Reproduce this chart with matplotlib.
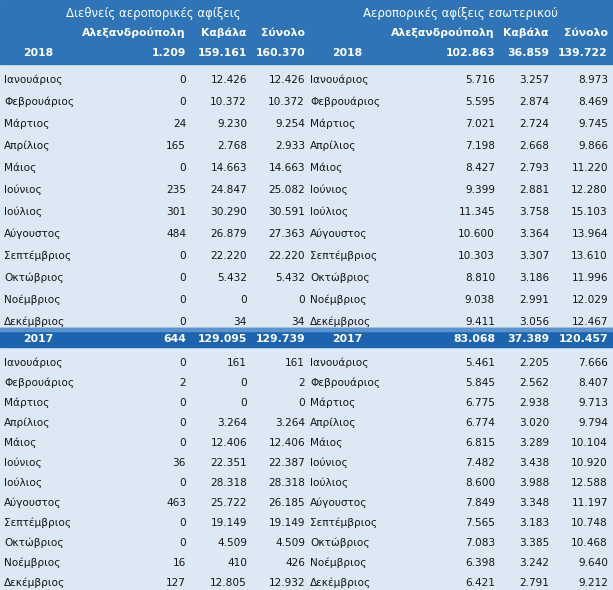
import matplotlib
matplotlib.use("Agg")
import matplotlib.pyplot as plt
from matplotlib.patches import Rectangle

months = ["Ιανουάριος", "Φεβρουάριος", "Μάρτιος", "Απρίλιος", "Μάιος", "Ιούνιος",
          "Ιούλιος", "Αύγουστος", "Σεπτέμβριος", "Οκτώβριος", "Νοέμβριος", "Δεκέμβριος"]
left_title = "Διεθνείς αεροπορικές αφίξεις"
right_title = "Αεροπορικές αφίξεις εσωτερικού"
col_labels = ["Αλεξανδρούπολη", "Καβάλα", "Σύνολο"]
years = ["2018", "2017"]

# International arrivals
intl_2018_alex = [0, 0, 24, 165, 0, 235, 301, 484, 0, 0, 0, 0]
intl_2018_kav = [12426, 10372, 9230, 2768, 14663, 24847, 30290, 26879, 22220, 5432, 0, 34]
intl_2018_tot = [12426, 10372, 9254, 2933, 14663, 25082, 30591, 27363, 22220, 5432, 0, 34]
intl_2018_sum = [1209, 159161, 160370]
intl_2017_alex = [0, 2, 0, 0, 0, 36, 0, 463, 0, 0, 16, 127]
intl_2017_kav = [161, 0, 0, 3264, 12406, 22351, 28318, 25722, 19149, 4509, 410, 12805]
intl_2017_tot = [161, 2, 0, 3264, 12406, 22387, 28318, 26185, 19149, 4509, 426, 12932]
intl_2017_sum = [644, 129095, 129739]

# Domestic arrivals
dom_2018_alex = [5716, 5595, 7021, 7198, 8427, 9399, 11345, 10600, 10303, 8810, 9038, 9411]
dom_2018_kav = [3257, 2874, 2724, 2668, 2793, 2881, 3758, 3364, 3307, 3186, 2991, 3056]
dom_2018_tot = [8973, 8469, 9745, 9866, 11220, 12280, 15103, 13964, 13610, 11996, 12029, 12467]
dom_2018_sum = [102863, 36859, 139722]
dom_2017_alex = [5461, 5845, 6775, 6774, 6815, 7482, 8600, 7849, 7565, 7083, 6398, 6421]
dom_2017_kav = [2205, 2562, 2938, 3020, 3289, 3438, 3988, 3348, 3183, 3385, 3242, 2791]
dom_2017_tot = [7666, 8407, 9713, 9794, 10104, 10920, 12588, 11197, 10748, 10468, 9640, 9212]
dom_2017_sum = [83068, 37389, 120457]


def fmt(v):
    return f"{v:,}".replace(",", ".")


W, H = 613, 590
fig = plt.figure(figsize=(W / 100, H / 100), dpi=100)
ax = fig.add_axes([0, 0, 1, 1])
ax.set_xlim(0, W)
ax.set_ylim(H, 0)
ax.axis("off")

BODY = "#DCE8F4"
HEAD = "#2E74B7"
BAND = "#1C64B0"
TXT = "#151515"
FS = 7.6

ax.add_patch(Rectangle((0, 0), W, H, color=BODY, zorder=0))
ax.add_patch(Rectangle((0, 0), W, 63.5, color=HEAD, zorder=1))
ax.add_patch(Rectangle((0, 328), W, 19, color=BAND, zorder=1))
ax.add_patch(Rectangle((0, 328), W, 2.5, color="#5D93CC", zorder=1))

# column x positions (right edges) and label positions
left_cols = [186, 247, 305]
right_cols = [495, 549, 608]
left_month_x = 4
right_month_x = 310
left_year_x = 38
right_year_x = 347

# Header
ax.text(153, 13, left_title, color="white", fontsize=FS + 0.9, ha="center", va="center")
ax.text(460, 13, right_title, color="white", fontsize=FS + 0.9, ha="center", va="center")
for cols in (left_cols, right_cols):
    for x, lab in zip(cols, col_labels):
        ax.text(x, 33, lab, color="white", fontsize=FS + 0.2, fontweight="bold",
                ha="right", va="center")


def year_row(y, year, lsum, rsum):
    ax.text(left_year_x, y, year, color="white", fontsize=FS + 0.2, fontweight="bold",
            ha="center", va="center")
    ax.text(right_year_x, y, year, color="white", fontsize=FS + 0.2, fontweight="bold",
            ha="center", va="center")
    for x, v in zip(left_cols, lsum):
        ax.text(x, y, fmt(v), color="white", fontsize=FS + 0.2, fontweight="bold",
                ha="right", va="center")
    for x, v in zip(right_cols, rsum):
        ax.text(x, y, fmt(v), color="white", fontsize=FS + 0.2, fontweight="bold",
                ha="right", va="center")


def month_rows(y0, dy, la, lk, lt, ra, rk, rt):
    for i, m in enumerate(months):
        y = y0 + dy * i
        ax.text(left_month_x, y, m, color=TXT, fontsize=FS, ha="left", va="center")
        ax.text(right_month_x, y, m, color=TXT, fontsize=FS, ha="left", va="center")
        for x, v in zip(left_cols, (la[i], lk[i], lt[i])):
            ax.text(x, y, fmt(v), color=TXT, fontsize=FS, ha="right", va="center")
        for x, v in zip(right_cols, (ra[i], rk[i], rt[i])):
            ax.text(x, y, fmt(v), color=TXT, fontsize=FS, ha="right", va="center")


year_row(53, years[0], intl_2018_sum, dom_2018_sum)
month_rows(80, 22, intl_2018_alex, intl_2018_kav, intl_2018_tot,
           dom_2018_alex, dom_2018_kav, dom_2018_tot)
year_row(338.5, years[1], intl_2017_sum, dom_2017_sum)
month_rows(363, 20, intl_2017_alex, intl_2017_kav, intl_2017_tot,
           dom_2017_alex, dom_2017_kav, dom_2017_tot)

fig.savefig("out.png", dpi=100)
